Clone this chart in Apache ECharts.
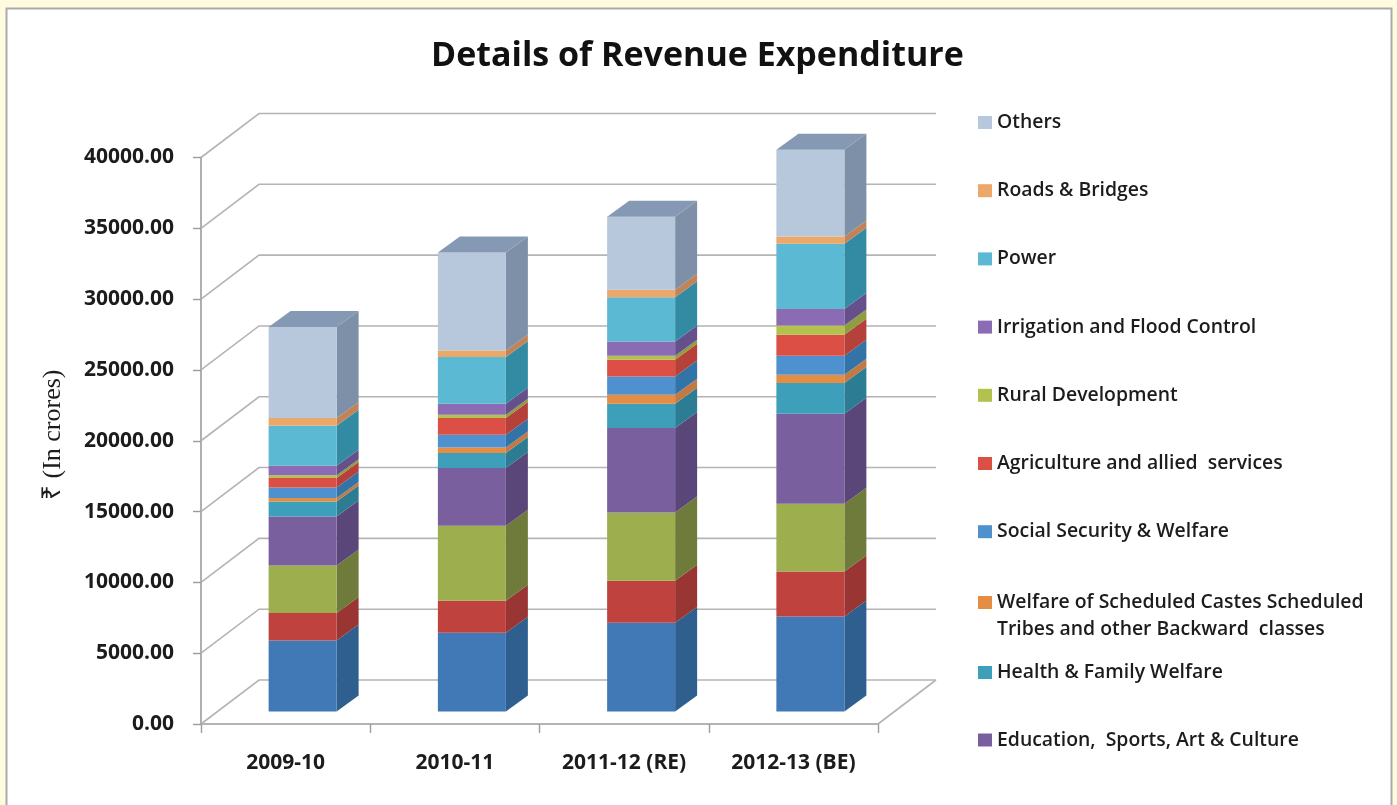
<!DOCTYPE html>
<html><head><meta charset="utf-8">
<style>html,body{margin:0;padding:0;background:#fffbe1}#c{width:1397px;height:805px}</style>
<script src="https://cdn.jsdelivr.net/npm/echarts@6/dist/echarts.min.js"></script>
</head><body><div id="c"></div>
<script>
const categories = ['2009-10','2010-11','2011-12 (RE)','2012-13 (BE)'];
const yTicks = [0,5000,10000,15000,20000,25000,30000,35000,40000];
// Bottom to top. The three lowest bands have no legend entry in the picture.
const band1 = [5010,5560,6260,6710];
const band2 = [1940,2260,2970,3180];
const band3 = [3360,5290,4820,4780];
const education = [3460,4075,5960,6350];
const health = [1060,1060,1716,2168];
const welfareSC = [240,395,635,586];
const socialSecurity = [750,897,1292,1342];
const agriculture = [660,1180,1180,1483];
const ruralDevelopment = [210,230,280,656];
const irrigation = [660,780,1010,1158];
const power = [2825,3297,3135,4611];
const roads = [540,470,515,516];
const others = [6430,6920,5155,6122];

const names = {
  others:'Others', roads:'Roads & Bridges', power:'Power', irrigation:'Irrigation and Flood Control',
  rural:'Rural Development', agri:'Agriculture and allied  services', social:'Social Security & Welfare',
  welfare:'Welfare of Scheduled Castes Scheduled Tribes and other Backward  classes',
  health:'Health & Family Welfare', education:'Education,  Sports, Art & Culture'
};
const stackDefs = [
  ['Band 1', band1, '#4079b6', '#2f5f8e'],
  ['Band 2', band2, '#bf423f', '#993533'],
  ['Band 3', band3, '#9cae4d', '#6e7b3b'],
  [names.education, education, '#7a5f9f', '#5a4679'],
  [names.health, health, '#3d9fb9', '#2c7d93'],
  [names.welfare, welfareSC, '#e58d42', '#c27a45'],
  [names.social, socialSecurity, '#4f91cf', '#3374a8'],
  [names.agri, agriculture, '#dc4f45', '#b5413a'],
  [names.rural, ruralDevelopment, '#b3c24f', '#8f9c3f'],
  [names.irrigation, irrigation, '#8a6bb4', '#66508b'],
  [names.power, power, '#5bb9d3', '#338ba3'],
  [names.roads, roads, '#eba869', '#c08458'],
  [names.others, others, '#b7c8dc', '#7d90a7']
];
const TOP_COLOR = '#8599b4';
const WALL = {dx:58, dy:-44};
const BAR = {shiftX:17, shiftY:-12.5, ratio:68/169.25, dx:22, dy:-16};
const FONT = '"Open Sans"';
const TXT = '#1c1c1c';

const running = categories.map(()=>0);
const barSeries = stackDefs.map((d,si)=>{
  const rows = d[1].map((v,i)=>{const s=running[i]; running[i]+=v; return [i,s,running[i]];});
  return {
    type:'custom', name:d[0], coordinateSystem:'cartesian2d', silent:true, z:3,
    itemStyle:{color:d[2]},
    encode:{x:0,y:[1,2]},
    data:rows,
    renderItem(params,api){
      const a=api.coord([api.value(0),api.value(1)]);
      const b=api.coord([api.value(0),api.value(2)]);
      const w=api.size([1,0])[0]*BAR.ratio;
      const x0=a[0]+BAR.shiftX-w/2, x1=x0+w;
      const y0=a[1]+BAR.shiftY, y1=b[1]+BAR.shiftY;
      const kids=[
        {type:'polygon',shape:{points:[[x1,y0],[x1+BAR.dx,y0+BAR.dy],[x1+BAR.dx,y1+BAR.dy],[x1,y1]]},style:{fill:d[3]}},
        {type:'rect',shape:{x:x0,y:y1,width:w,height:y0-y1},style:{fill:d[2]}}
      ];
      if(si===stackDefs.length-1) kids.push({type:'polygon',shape:{points:[[x0,y1],[x1,y1],[x1+BAR.dx,y1+BAR.dy],[x0+BAR.dx,y1+BAR.dy]]},style:{fill:TOP_COLOR}});
      return {type:'group',children:kids};
    }
  };
});
const wallSeries = {
  type:'custom', name:'walls', coordinateSystem:'cartesian2d', silent:true, z:1,
  encode:{y:1}, data:yTicks.map(t=>[0,t]),
  renderItem(params,api){
    const p=api.coord([0,api.value(1)]);
    const left=params.coordSys.x, right=left+params.coordSys.width;
    const y=p[1], st={stroke:'#b4b4b4',lineWidth:1.6,fill:null};
    const kids=[{type:'polyline',shape:{points:[[left,y],[left+WALL.dx,y+WALL.dy],[right+WALL.dx,y+WALL.dy]]},style:st}];
    if(api.value(1)===0) kids.push({type:'line',shape:{x1:right,y1:y,x2:right+WALL.dx,y2:y+WALL.dy},style:st});
    return {type:'group',children:kids};
  }
};
function legend(top,data,extra){
  return Object.assign({orient:'vertical',left:978,top,padding:0,data,icon:'rect',itemWidth:14,itemHeight:13,itemGap:49.2,
    selectedMode:false,textStyle:{fontFamily:FONT,fontWeight:600,fontSize:19.4,color:TXT}},extra||{});
}
const chart=echarts.init(document.getElementById('c'),null,{renderer:'canvas'});
chart.setOption({
  animation:false,
  backgroundColor:'#fffbe1',
  title:{text:'Details of Revenue Expenditure',left:431,top:39,padding:0,textStyle:{fontFamily:FONT,fontWeight:700,fontSize:34,color:'#111'}},
  graphic:[{type:'rect',z:-10,shape:{x:6.5,y:8.5,width:1385,height:805},style:{fill:'#fff',stroke:'#aaa',lineWidth:2}}],
  grid:{left:201,top:157.5,width:677,height:566.5},
  legend:[
    legend(113,[names.others,names.roads,names.power,names.irrigation,names.rural,names.agri,names.social]),
    legend(562,[names.welfare],{itemGap:0,formatter:()=>'\nWelfare of Scheduled Castes Scheduled\nTribes and other Backward  classes',
      textStyle:{fontFamily:FONT,fontWeight:600,fontSize:19.4,color:TXT,lineHeight:27}}),
    legend(663,[names.health,names.education],{itemGap:48.5})
  ],
  xAxis:{type:'category',data:categories,
    axisLine:{lineStyle:{color:'#9c9c9c',width:1.6}},axisTick:{show:true,length:9,lineStyle:{color:'#9c9c9c',width:1.4}},
    axisLabel:{margin:29,fontFamily:FONT,fontWeight:700,fontSize:21,color:TXT},splitLine:{show:false}},
  yAxis:{type:'value',min:0,max:40000,interval:5000,
    name:'₹ (In crores)',nameLocation:'middle',nameGap:135,nameRotate:90,
    nameTextStyle:{fontFamily:'"Liberation Serif"',fontSize:26,color:'#1c1c1c',padding:[0,0,0,12]},
    axisLine:{show:true,lineStyle:{color:'#9c9c9c',width:1.6}},axisTick:{show:true,length:8,lineStyle:{color:'#9c9c9c',width:1.4}},
    axisLabel:{margin:27,fontFamily:FONT,fontWeight:700,fontSize:21,color:TXT,formatter:v=>v.toFixed(2)},splitLine:{show:false}},
  series:[wallSeries].concat(barSeries)
});
</script></body></html>
